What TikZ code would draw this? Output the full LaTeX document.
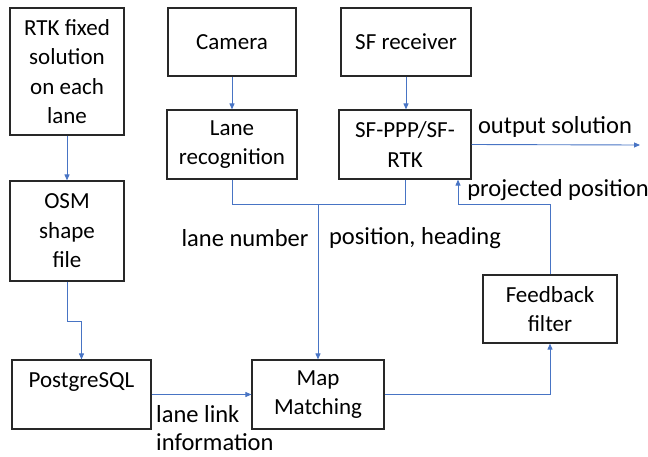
\documentclass[tikz,border=0pt]{standalone}
\usepackage{fontspec}
\setmainfont{Carlito}
\usetikzlibrary{arrows.meta}
\definecolor{lineblue}{RGB}{72,116,196}
\definecolor{boxgray}{RGB}{40,40,40}
\tikzset{
  box/.style={draw=boxgray, line width=1.2pt, align=center, inner sep=2pt,
    font=\fontsize{23}{29.5}\selectfont},
  conn/.style={draw=lineblue, line width=0.9pt},
  arr/.style={conn, -{Triangle[length=6pt,width=5pt]}},
  lbl/.style={font=\fontsize{24.5}{29}\selectfont, inner sep=0pt}
}
\begin{document}
\begin{tikzpicture}[x=1pt,y=-1pt]
\useasboundingbox (0,0) rectangle (648,456);
% boxes
\node[box, minimum width=114pt, minimum height=127pt] (rtk) at (67,71.5) {RTK fixed\\solution\\on each\\lane};
\node[box, minimum width=128pt, minimum height=68pt] (cam) at (232,42) {Camera};
\node[box, minimum width=130pt, minimum height=68pt] (sfr) at (406,42) {SF receiver};
\node[box, minimum width=130pt, minimum height=69pt] (lane) at (232,144.5) {Lane\\recognition};
\node[box, minimum width=132pt, minimum height=69pt] (sf) at (405,144.5) {SF-PPP/SF-\\RTK};
\node[box, minimum width=114pt, minimum height=100pt] (osm) at (67,231) {OSM\\shape\\file};
\node[box, minimum width=139pt, minimum height=69pt] (pg) at (81.5,394.5) {PostgreSQL\\\mbox{}};
\node[box, minimum width=132pt, minimum height=69pt] (mm) at (318,394.5) {Map\\Matching};
\node[box, minimum width=134pt, minimum height=68pt] (fb) at (550,309) {Feedback\\filter};
% helper coordinates
\coordinate (junc) at (318,204);
\coordinate (osmturn) at (67,321);
\coordinate (fbturn) at (458,204);
\coordinate (out) at (640,145);
% connectors
\draw[arr] (rtk) -- (osm);
\draw[arr] (cam) -- (lane);
\draw[arr] (sfr.south) -- (sfr.south |- sf.north);
\draw[conn] (lane.south) |- (junc);
\draw[conn] (sf.south) |- (junc);
\draw[arr] (junc) -- (mm.north);
\draw[arr] (osm.south) -- (osmturn) -| (pg.north);
\draw[arr] (pg.east) -- (mm.west);
\draw[arr] (mm.east) -| (fb.south);
\draw[arr] (fb.north) |- (fbturn) -- (fbturn |- sf.south);
\draw[arr] (sf.east) -- (out);
% labels
\node[lbl] (l1) at (555,127) {output solution};
\node[lbl] (l2) at (558,190) {projected position};
\node[lbl] (l3) at (245,238) {lane number};
\node[lbl] (l4) at (415,238) {position, heading};
\node[lbl, anchor=west] (l5) at (156,414) {lane link};
\node[lbl, anchor=west] (l6) at (156,442) {information};
\end{tikzpicture}
\end{document}
